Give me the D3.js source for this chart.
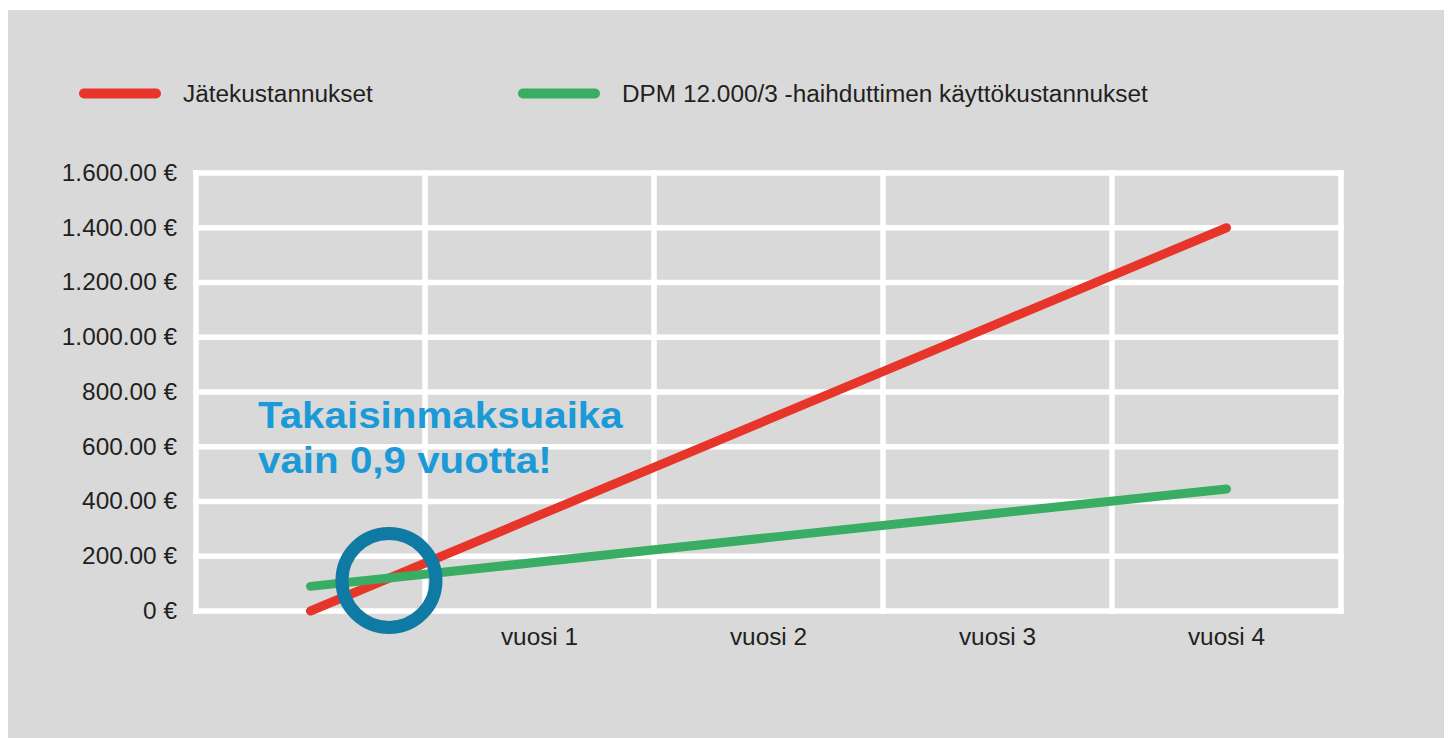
<!DOCTYPE html>
<html>
<head>
<meta charset="utf-8">
<script src="https://cdn.jsdelivr.net/npm/d3@7"></script>
<style>
  html, body { margin: 0; padding: 0; background: #ffffff; }
  svg { display: block; }
  text { font-family: "Liberation Sans", Arial, Helvetica, sans-serif; }
</style>
</head>
<body>
<svg id="chart" width="1451" height="738"></svg>
<script>
// ---- data ----
const categories = ["", "vuosi 1", "vuosi 2", "vuosi 3", "vuosi 4"];
const wasteCosts = [0, 350, 700, 1050, 1400];          // Jätekustannukset
const evaporatorCosts = [90, 179, 268, 357, 446];      // DPM 12.000/3 -haihduttimen käyttökustannukset
const seriesNames = ["Jätekustannukset", "DPM 12.000/3 -haihduttimen käyttökustannukset"];
const yTickValues = [0, 200, 400, 600, 800, 1000, 1200, 1400, 1600];
const yTickLabels = ["0 €", "200.00 €", "400.00 €", "600.00 €", "800.00 €", "1.000.00 €", "1.200.00 €", "1.400.00 €", "1.600.00 €"];
const annotationLines = ["Takaisinmaksuaika", "vain 0,9 vuotta!"];

// ---- layout ----
const W = 1451, H = 738;
const plot = { left: 196, right: 1341, top: 173, bottom: 611 };
const colors = { red: "#e8352a", green: "#38ad63", panel: "#d9d9d9", text: "#231f20", note: "#1b9ad7", ring: "#0f7aa3" };
const fontSize = 23;
const stretch = 1.06;
const noteStretch = 1.09;

const svg = d3.select("#chart");

svg.append("rect")
  .attr("x", 8).attr("y", 10).attr("width", 1436).attr("height", H - 10)
  .attr("fill", colors.panel);

const x = d3.scaleBand().domain(categories).range([plot.left, plot.right]).paddingInner(0).paddingOuter(0);
const y = d3.scaleLinear().domain([0, 1600]).range([plot.bottom, plot.top]);

// ---- grid ----
const grid = svg.append("g").attr("stroke", "#ffffff").attr("stroke-width", 5.5).attr("stroke-linecap", "square");
grid.selectAll("line.h").data(yTickValues).join("line")
  .attr("class", "h")
  .attr("x1", plot.left).attr("x2", plot.right)
  .attr("y1", d => y(d)).attr("y2", d => y(d));
const vBounds = categories.map(c => x(c)).concat([x.range()[1]]);
grid.selectAll("line.v").data(vBounds).join("line")
  .attr("class", "v")
  .attr("x1", d => d).attr("x2", d => d)
  .attr("y1", plot.top).attr("y2", plot.bottom);

// ---- axes ----
const yAxis = d3.axisLeft(y).tickValues(yTickValues)
  .tickFormat((d, i) => yTickLabels[i]).tickSize(0).tickPadding(19);
const gy = svg.append("g").attr("transform", `translate(${plot.left},0)`).call(yAxis);
gy.select(".domain").remove();
gy.selectAll("text").attr("font-size", fontSize).attr("fill", colors.text)
  .attr("font-family", "Liberation Sans, Arial, sans-serif");

const xAxis = d3.axisBottom(x).tickSize(0).tickPadding(18);
const gx = svg.append("g").attr("transform", `translate(0,${plot.bottom})`).call(xAxis);
gx.select(".domain").remove();
gx.selectAll("text").attr("font-size", fontSize).attr("fill", colors.text)
  .attr("font-family", "Liberation Sans, Arial, sans-serif");

// ---- legend ----
const legendItems = [
  { name: seriesNames[0], color: colors.red, x0: 84 },
  { name: seriesNames[1], color: colors.green, x0: 523 }
];
const lg = svg.append("g");
lg.selectAll("line").data(legendItems).join("line")
  .attr("x1", d => d.x0).attr("x2", d => d.x0 + 72)
  .attr("y1", 93.5).attr("y2", 93.5)
  .attr("stroke", d => d.color).attr("stroke-width", 10).attr("stroke-linecap", "round");
lg.selectAll("text").data(legendItems).join("text")
  .attr("x", d => d.x0 + 99).attr("y", 101.5)
  .attr("font-size", fontSize).attr("fill", colors.text)
  .text(d => d.name);

// ---- lines ----
const cx = c => x(c) + x.bandwidth() / 2;
const line = d3.line().x(d => cx(d.c)).y(d => y(d.v));
const series = [
  { vals: wasteCosts, color: colors.red },
  { vals: evaporatorCosts, color: colors.green }
];
svg.append("g").selectAll("path").data(series).join("path")
  .attr("d", s => line(s.vals.map((v, i) => ({ c: categories[i], v }))))
  .attr("fill", "none").attr("stroke", s => s.color)
  .attr("stroke-width", 9).attr("stroke-linecap", "round").attr("stroke-linejoin", "round");

// ---- annotation ----
const note = svg.append("text").attr("class", "note").attr("font-size", 37).attr("font-weight", "bold").attr("fill", colors.note);
note.selectAll("tspan").data(annotationLines).join("tspan")
  .attr("x", 258).attr("y", (d, i) => 428 + i * 45).text(d => d);

// ---- intersection ring ----
const r0 = wasteCosts[0], r1 = wasteCosts[1], g0 = evaporatorCosts[0], g1 = evaporatorCosts[1];
const t = (g0 - r0) / ((r1 - r0) - (g1 - g0));
const ix = cx(categories[0]) + t * (cx(categories[1]) - cx(categories[0]));
const iy = y(r0 + t * (r1 - r0));
svg.append("circle").attr("cx", ix - 0.5).attr("cy", iy + 2.5).attr("r", 47)
  .attr("fill", "none").attr("stroke", colors.ring).attr("stroke-width", 13);

// ---- slight horizontal stretch of text as in the original ----
svg.selectAll("text").each(function () {
  const el = this;
  if (el.querySelector("tspan")) {
    d3.select(el).selectAll("tspan").each(function () {
      const len = this.getComputedTextLength();
      this.setAttribute("textLength", (len * noteStretch).toFixed(1));
      this.setAttribute("lengthAdjust", "spacingAndGlyphs");
    });
  } else {
    const len = el.getComputedTextLength();
    if (len > 0) {
      el.setAttribute("textLength", (len * stretch).toFixed(1));
      el.setAttribute("lengthAdjust", "spacingAndGlyphs");
    }
  }
});
</script>
</body>
</html>
